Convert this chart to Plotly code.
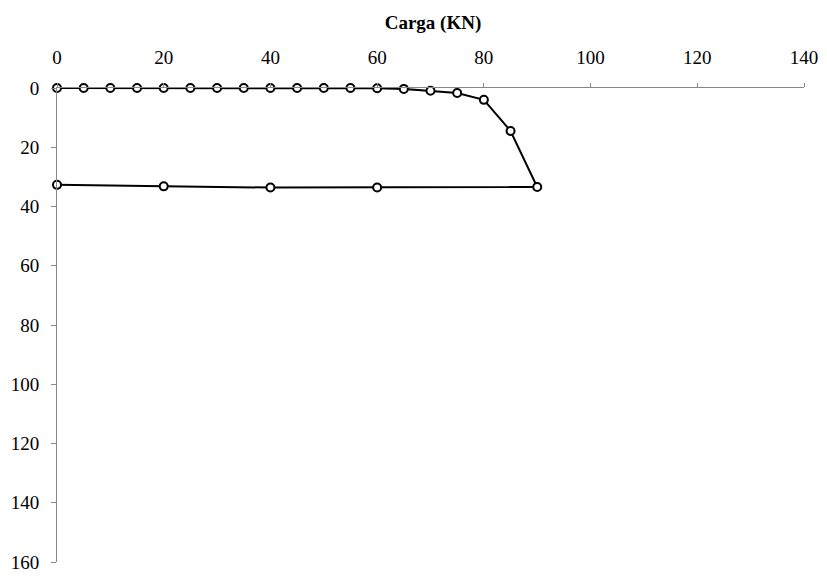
import plotly.graph_objects as go

carga = [0, 5, 10, 15, 20, 25, 30, 35, 40, 45, 50, 55, 60, 65, 70, 75, 80, 85, 90, 60, 40, 20, 0]
recalque = [0, 0, 0, 0, 0, 0, 0, 0, 0, 0, 0, 0, 0.1, 0.3, 0.9, 1.7, 4.0, 14.5, 33.4, 33.6, 33.6, 33.2, 32.7]

x_ticks = [0, 20, 40, 60, 80, 100, 120, 140]
y_ticks = [0, 20, 40, 60, 80, 100, 120, 140, 160]

font_family = "Liberation Serif, Times New Roman, serif"

W, H = 811, 567

fig = go.Figure()
fig.add_trace(go.Scatter(
    x=carga, y=recalque, mode="lines+markers",
    line=dict(color="black", width=2),
    marker=dict(symbol="circle", size=8, color="white", line=dict(color="black", width=2)),
    showlegend=False, cliponaxis=False,
))

fig.update_layout(
    width=W, height=H,
    paper_bgcolor="white", plot_bgcolor="white",
    margin=dict(l=49, r=15, t=80, b=13, autoexpand=False),
    font=dict(family=font_family, size=19, color="black"),
    title=dict(text="<b>Carga (KN)</b>", x=425 / W, xanchor="center", y=1 - 14 / H, yanchor="middle",
               font=dict(family=font_family, size=19, color="black")),
    xaxis=dict(
        side="top", range=[0, 140], tickvals=x_ticks, ticktext=[str(v) for v in x_ticks],
        showgrid=False, zeroline=False, showline=True, linecolor="#888888", linewidth=1,
        ticks="outside", ticklen=4, tickcolor="#888888", tickfont=dict(size=19),
        ticklabelstandoff=11, automargin=False, ticklabeloverflow="allow",
    ),
    yaxis=dict(
        range=[160, 0], tickvals=y_ticks, ticktext=[str(v) for v in y_ticks],
        showgrid=False, zeroline=False, showline=True, linecolor="#888888", linewidth=1,
        ticks="outside", ticklen=5, tickcolor="#888888", tickfont=dict(size=19),
        ticklabelstandoff=8, automargin=False, ticklabeloverflow="allow",
    ),
)

fig.write_html("out.html")
